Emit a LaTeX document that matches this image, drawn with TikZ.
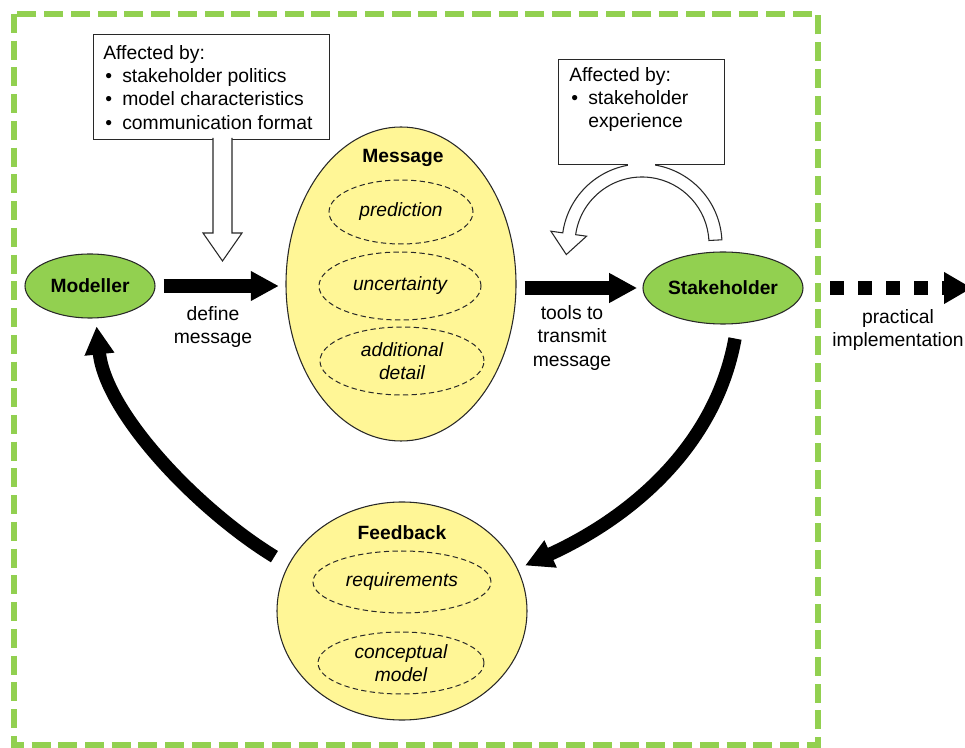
\documentclass[tikz,border=0pt]{standalone}
\usepackage{fontspec}
\setmainfont{Liberation Sans}
\usetikzlibrary{arrows.meta}
\usetikzlibrary{shapes}
\usetikzlibrary{calc}
\usepackage{xcolor}
\definecolor{framegreen}{RGB}{146,208,80}
\definecolor{actorgreen}{RGB}{146,208,80}
\definecolor{bubbleyellow}{RGB}{255,246,150}
\definecolor{edgegray}{RGB}{40,40,40}
\newcommand{\affbullet}{\makebox[14.25pt][l]{\hspace{1.5pt}\textbullet}}

\begin{document}
\begin{tikzpicture}[x=0.75pt,y=0.75pt,yscale=-1,xscale=1,
  every node/.style={font=\fontsize{14.5}{17.5}\selectfont},
  actor/.style={ellipse, draw=edgegray, line width=0.8pt, fill=actorgreen, inner sep=0pt, font=\fontsize{14.4}{17.5}\selectfont\bfseries},
  bubble/.style={ellipse, draw=edgegray, line width=0.8pt, fill=bubbleyellow, inner sep=0pt},
  headline/.style={font=\fontsize{14.4}{17.5}\selectfont\bfseries},
  msgpart/.style={ellipse, draw=edgegray, line width=0.75pt, dash pattern=on 4pt off 2.5pt, inner sep=0pt, align=center, font=\fontsize{14.4}{17.5}\selectfont\itshape},
  infobox/.style={draw=edgegray, line width=0.9pt, fill=white, inner sep=0pt},
  boxtext/.style={anchor=north west, inner sep=0pt, align=left},
  hollow/.style={draw=edgegray, line width=0.8pt, fill=white},
  bigarrow/.style={line width=10pt, -{Triangle[length=21pt,width=21pt]}},
  lbl/.style={align=center}
]
\useasboundingbox (0,0) rectangle (965,748);

%Dashed frame
\draw [framegreen, line width=4.8pt, dash pattern=on 14.25pt off 5.8pt] (14,14) rectangle (818,745);

%Info boxes
\node [infobox, anchor=north west, minimum width=177pt, minimum height=78.75pt] (topbox) at (93,34) {};
\node [boxtext] (toptext) at (103,45) {Affected by:\\\affbullet stakeholder politics\\\affbullet model characteristics\\\affbullet communication format};
\node [infobox, anchor=north west, minimum width=124.5pt, minimum height=78.75pt] (expbox) at (558,59) {};
\node [boxtext] (exptext) at (569,67) {Affected by:\\\affbullet stakeholder\\\hspace*{14.25pt}experience};

%Hollow arrow from top box
\draw [hollow] (213,138) -- (213,233) -- (203,233) -- (222.5,261) -- (242,233) -- (232,233) -- (232,138);

%Hollow curved arrow from experience box
\coordinate (arcc) at (642,244);
\draw [hollow] ($(arcc)+(-3:80)$) arc [start angle=-3, end angle=-172, radius=80] -- ($(arcc)+(-172:92)$) -- ($(arcc)+(-172:73.5)+(98:21)$) -- ($(arcc)+(-172:56)$) -- ($(arcc)+(-172:67)$) arc [start angle=-172, end angle=-3, radius=67] -- cycle;
\fill [white] (628,157) rectangle (655,171);

%Main nodes
\node [actor, minimum width=97.5pt, minimum height=48pt] (modeller) at (90,286) {Modeller};
\node [bubble, minimum width=172.5pt, minimum height=235.5pt] (message) at (401,284) {};
\node [headline] (msgtitle) at (403,158) {Message};
\node [msgpart, minimum width=108pt, minimum height=48pt] (prediction) at (401,212) {prediction};
\node [msgpart, minimum width=121.5pt, minimum height=51pt] (uncertainty) at (400,286) {uncertainty};
\node [msgpart, minimum width=123pt, minimum height=51pt] (detail) at (402,361) {additional\\detail};
\node [actor, minimum width=120pt, minimum height=54pt] (stakeholder) at (723,288) {Stakeholder};
\node [bubble, minimum width=187.5pt, minimum height=163.5pt] (feedback) at (402,611) {};
\node [headline] (fbtitle) at (402,533) {Feedback};
\node [msgpart, minimum width=133.5pt, minimum height=46.5pt] (requirements) at (402,582) {requirements};
\node [msgpart, minimum width=124.5pt, minimum height=46.5pt] (concept) at (401,663) {conceptual\\model};

%Black arrows
\draw [bigarrow, shorten <=6pt, shorten >=5pt] (modeller) -- (modeller -| message.west);
\draw [bigarrow, shorten <=6pt, shorten >=4pt] (message.east |- stakeholder) -- (stakeholder);
\draw [bigarrow, shorten >=6pt] ($(stakeholder.south)+(12,14)$) .. controls +(-20,110) and +(110,-50) .. (feedback.20);
\draw [bigarrow, shorten <=12pt, shorten >=6pt] (feedback.158) .. controls +(-90,-55) and +(10,95) .. (modeller.-80);

%Dotted arrow out of the frame
\coordinate (impl) at (972,288);
\draw [line width=10pt, dash pattern=on 10.5pt off 10.5pt, -{Triangle[length=21pt,width=22.5pt]}, shorten <=20pt] (stakeholder) -- (impl);

%Labels
\node [lbl] (definelbl) at (213,327) {define\\message};
\node [lbl] (toolslbl) at (572,338) {tools to\\transmit\\message};
\node [lbl] (impllbl) at (898,330) {practical\\implementation};

\end{tikzpicture}
\end{document}
